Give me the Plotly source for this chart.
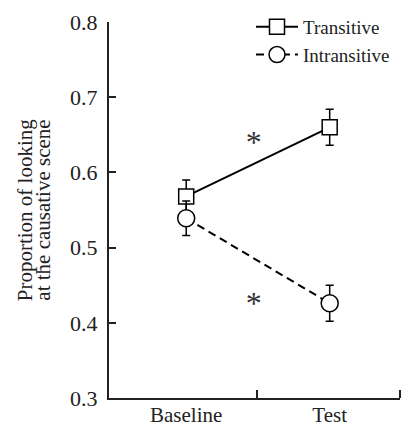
import plotly.graph_objects as go

categories = ["Baseline", "Test"]
transitive = [0.568, 0.660]
transitive_err = [0.022, 0.024]
intransitive = [0.539, 0.426]
intransitive_err = [0.023, 0.024]
star_x = [0.47, 0.47]
star_y = [0.636, 0.423]
y_ticks = [0.3, 0.4, 0.5, 0.6, 0.7, 0.8]
title_lines = ["Proportion of looking", "at the causative scene"]

xpos = list(range(len(categories)))
FONT = "Liberation Serif, Times New Roman, serif"
INK = "#222"

fig = go.Figure()
fig.add_trace(go.Scatter(
    x=xpos, y=transitive, name="Transitive", mode="lines+markers",
    line=dict(color="black", width=2, dash="solid"),
    marker=dict(symbol="square", size=15, color="white", line=dict(color="black", width=1.5)),
    error_y=dict(type="data", array=transitive_err, color="black", thickness=1.5, width=4),
))
fig.add_trace(go.Scatter(
    x=xpos, y=intransitive, name="Intransitive", mode="lines+markers",
    line=dict(color="black", width=2, dash="8px,5px"),
    marker=dict(symbol="circle", size=17, color="white", line=dict(color="black", width=1.5)),
    error_y=dict(type="data", array=intransitive_err, color="black", thickness=1.5, width=4),
))
fig.add_trace(go.Scatter(
    x=star_x, y=star_y, mode="text", text=["*", "*"], showlegend=False,
    textfont=dict(family=FONT, size=32, color="#333"),
))

# y-axis title as two rotated lines (tight line spacing)
title_x = [-0.288, -0.228]
for txt, tx in zip(title_lines, title_x):
    fig.add_annotation(text=txt, xref="paper", yref="paper", x=tx, y=0.482,
                       xanchor="center", yanchor="middle", textangle=-90,
                       showarrow=False, font=dict(family=FONT, size=21, color=INK))

# page body has an 8px default margin, so the figure is drawn 8px smaller;
# top margin is 0 and the y-axis domain stops short so the legend fits inside
fig.update_layout(
    width=401, height=419,
    margin=dict(l=101, r=9, t=0, b=29),
    paper_bgcolor="white", plot_bgcolor="white",
    font=dict(family=FONT, color=INK),
    showlegend=True,
    legend=dict(x=0.488, y=1.0, xanchor="left", yanchor="top",
                font=dict(family=FONT, size=19, color=INK),
                bgcolor="rgba(0,0,0,0)", tracegroupgap=0, itemwidth=42),
)
fig.update_xaxes(
    range=[-0.538, 1.49], tickvals=xpos, ticktext=categories, ticks="",
    tickfont=dict(family=FONT, size=21, color=INK), automargin=False, ticklabelstandoff=-3,
    showline=True, linecolor=INK, linewidth=2, showgrid=False, zeroline=False,
    minor=dict(tickvals=[0.49, 1.49], ticks="inside", ticklen=8, tickcolor=INK, tickwidth=2, showgrid=False),
)
fig.update_yaxes(
    range=[0.3, 0.8], domain=[0, 0.9641], tickvals=y_ticks, ticktext=[f"{v:.1f}" for v in y_ticks],
    ticks="inside", ticklen=7, tickwidth=2, tickcolor=INK, automargin=False,
    tickfont=dict(family=FONT, size=22, color=INK), ticklabelstandoff=5,
    showline=True, linecolor=INK, linewidth=2, showgrid=False, zeroline=False,
)
fig.write_html("out.html")
